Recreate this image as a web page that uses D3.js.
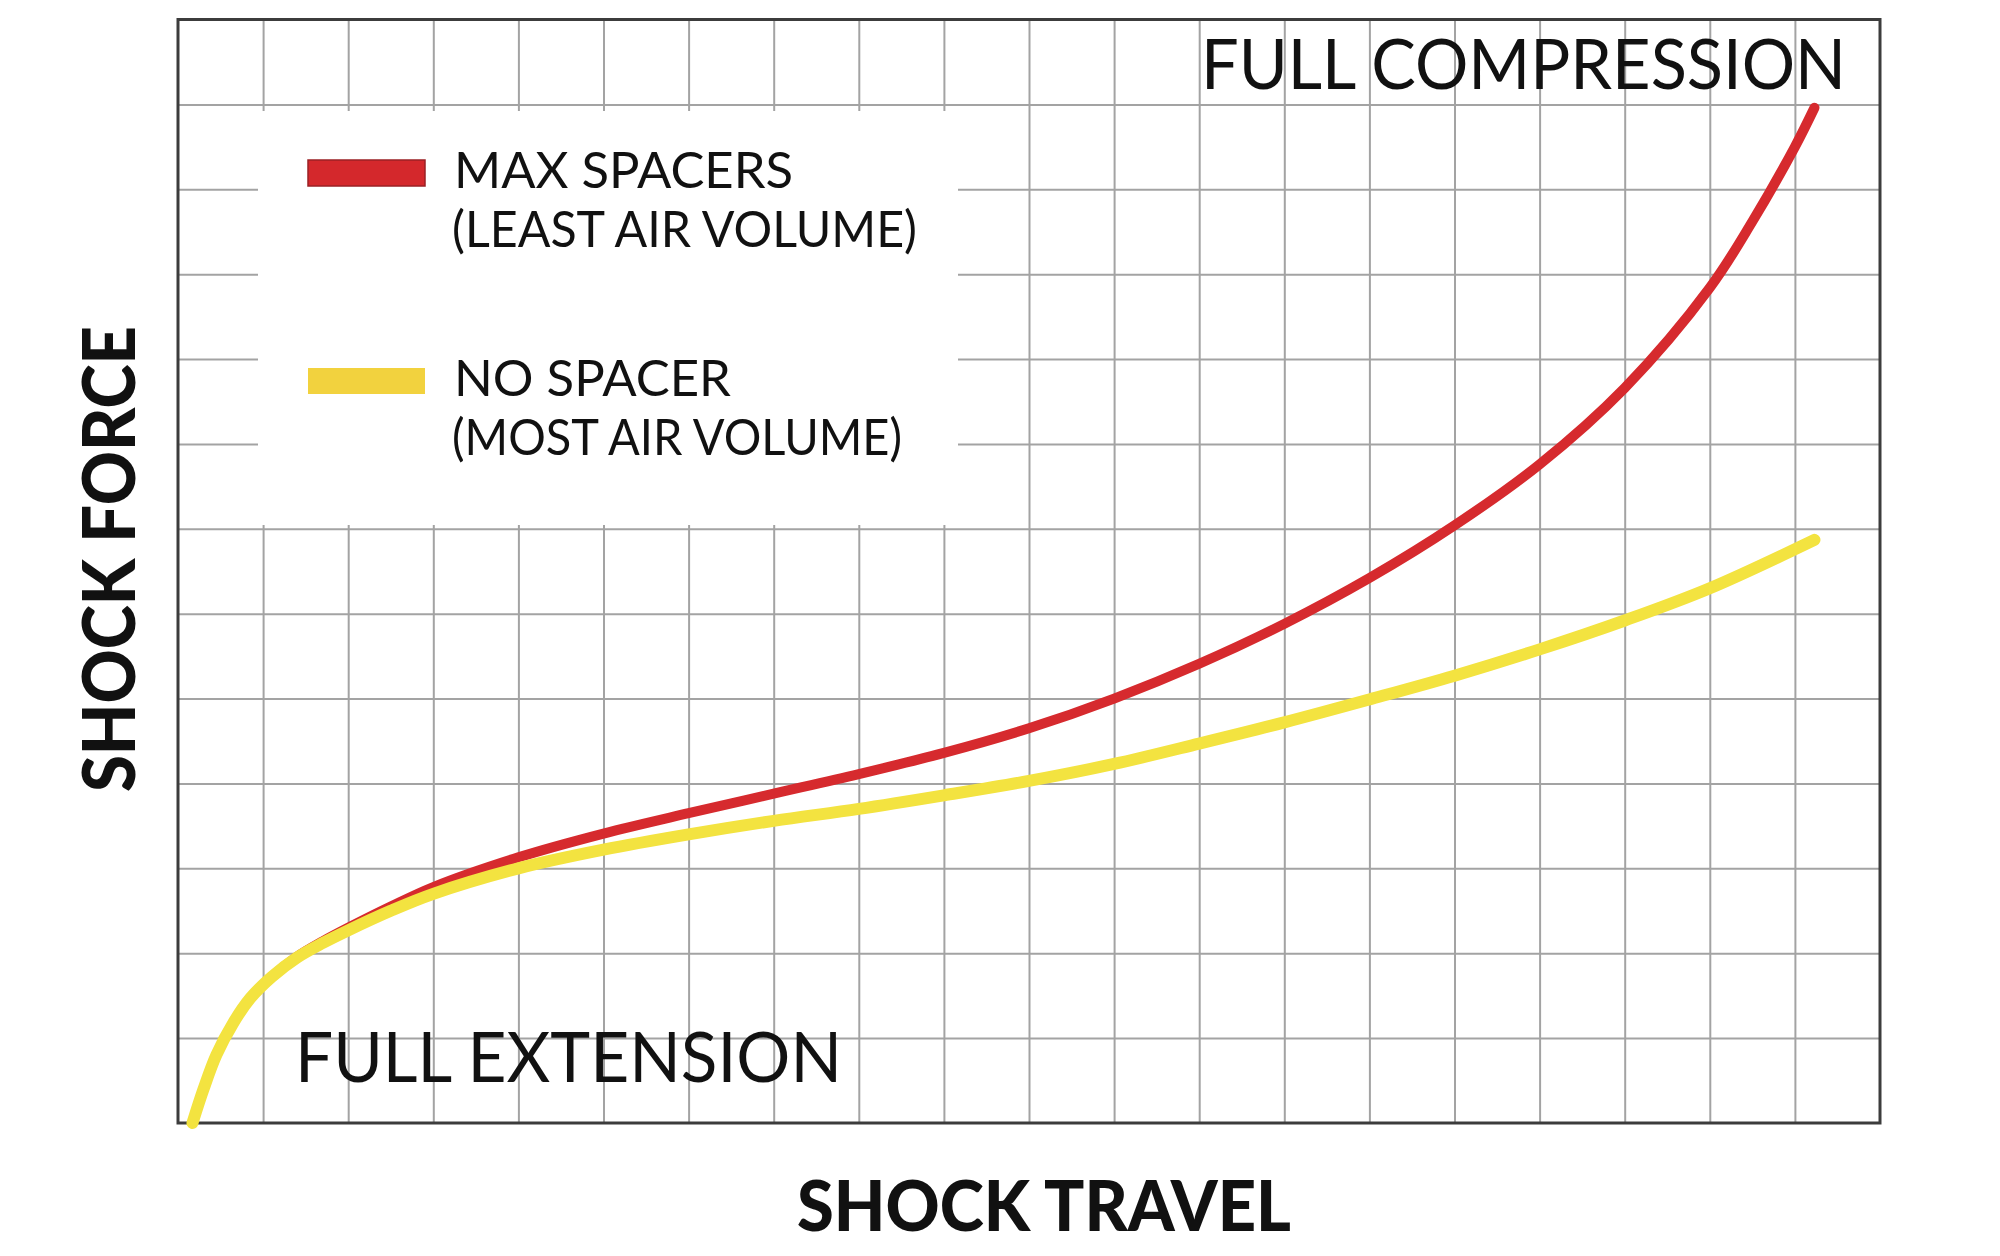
<!DOCTYPE html>
<html>
<head>
<meta charset="utf-8">
<script src="https://cdn.jsdelivr.net/npm/d3@7"></script>
<style>
  body { margin: 0; background: #fff; }
  text { font-family: Lato, "Open Sans", sans-serif; fill: #111; }
</style>
</head>
<body>
<script>
// travel / force in grid cells (20 x 13 grid)
const travel_max = [0.17, 0.3, 0.45, 0.65, 0.85, 1.1, 1.4, 1.7, 2, 2.5, 3, 4, 5, 6, 7, 8, 9, 10, 11, 12, 13, 14, 15, 16, 17, 18, 18.5, 19, 19.23];
const force_max  = [0, 0.4, 0.8, 1.18, 1.47, 1.72, 1.96, 2.14, 2.3, 2.55, 2.78, 3.13, 3.41, 3.65, 3.88, 4.11, 4.36, 4.65, 5.0, 5.41, 5.88, 6.42, 7.04, 7.76, 8.66, 9.84, 10.62, 11.5, 11.96];

const travel_none = [0.17, 0.3, 0.45, 0.65, 0.85, 1.1, 1.4, 1.7, 2, 2.5, 3, 4, 5, 6, 7, 8, 9, 10, 11, 12, 13, 14, 15, 16, 17, 18, 19.23];
const force_none  = [0, 0.4, 0.8, 1.18, 1.47, 1.72, 1.95, 2.12, 2.27, 2.5, 2.7, 3.0, 3.22, 3.4, 3.56, 3.7, 3.86, 4.03, 4.23, 4.47, 4.72, 4.99, 5.27, 5.58, 5.92, 6.3, 6.87];

const legendLabels = [['MAX SPACERS', '(LEAST AIR VOLUME)'], ['NO SPACER', '(MOST AIR VOLUME)']];
const colors = ['#d62a2e', '#f3e340'];
const swatchColors = ['#d4282c', '#f2d23e'];

// rendered widths of the labels, px
const legendWidths = [[339, 465], [277, 450]];

const width = 2000, height = 1256;
const plot = { left: 178, right: 1880, top: 19.5, bottom: 1123 };

const svg = d3.select('body').append('svg')
  .attr('width', width)
  .attr('height', height);

const x = d3.scaleLinear().domain([0, 20]).range([plot.left, plot.right]);
const y = d3.scaleLinear().domain([0, 13]).range([plot.bottom, plot.top]);

// grid
const gx = svg.append('g')
  .attr('transform', `translate(0,${plot.bottom})`)
  .call(d3.axisBottom(x).tickValues(d3.range(1, 20)).tickSize(-(plot.bottom - plot.top)).tickFormat(''));
const gy = svg.append('g')
  .attr('transform', `translate(${plot.left},0)`)
  .call(d3.axisLeft(y).tickValues(d3.range(1, 13)).tickSize(-(plot.right - plot.left)).tickFormat(''));
[gx, gy].forEach(g => {
  g.select('.domain').remove();
  g.selectAll('line').attr('stroke', '#a3a3a3').attr('stroke-width', 2);
});

// legend panel covers the grid
svg.append('rect')
  .attr('x', 258).attr('y', 111)
  .attr('width', 700).attr('height', 414)
  .attr('fill', '#fff');

// frame
svg.append('rect')
  .attr('x', plot.left).attr('y', plot.top)
  .attr('width', plot.right - plot.left).attr('height', plot.bottom - plot.top)
  .attr('fill', 'none')
  .attr('stroke', '#3c3c3c')
  .attr('stroke-width', 3);

// curves
const line = d3.line()
  .x(d => x(d[0]))
  .y(d => y(d[1]))
  .curve(d3.curveCatmullRom.alpha(0.5));

const series = [
  { pts: travel_max.map((t, i) => [t, force_max[i]]), color: colors[0], w: 10 },
  { pts: travel_none.map((t, i) => [t, force_none[i]]), color: colors[1], w: 12 }
];

svg.selectAll('.curve')
  .data(series)
  .enter()
  .append('path')
  .attr('class', 'curve')
  .attr('d', d => line(d.pts))
  .attr('fill', 'none')
  .attr('stroke', d => d.color)
  .attr('stroke-width', d => d.w)
  .attr('stroke-linecap', 'round');

// legend
const lg = svg.selectAll('.lg')
  .data(legendLabels)
  .enter()
  .append('g')
  .attr('class', 'lg')
  .attr('transform', (d, i) => `translate(0,${i * 208})`);

lg.append('rect')
  .attr('x', 308).attr('y', 160)
  .attr('width', 117).attr('height', 26)
  .attr('fill', (d, i) => swatchColors[i])
  .attr('stroke', (d, i) => i === 0 ? '#9a2024' : 'none')
  .attr('stroke-width', 1.5);

lg.append('text')
  .attr('x', 454).attr('y', 188)
  .attr('textLength', (d, i) => legendWidths[i][0])
  .attr('lengthAdjust', 'spacingAndGlyphs')
  .style('font-size', '50px')
  .text(d => d[0]);

lg.append('text')
  .attr('x', 452).attr('y', 247)
  .attr('textLength', (d, i) => legendWidths[i][1])
  .attr('lengthAdjust', 'spacingAndGlyphs')
  .style('font-size', '50px')
  .text(d => d[1]);

// annotations
svg.append('text')
  .attr('x', 1201).attr('y', 89)
  .attr('textLength', 645)
  .attr('lengthAdjust', 'spacingAndGlyphs')
  .style('font-size', '70px')
  .text('FULL COMPRESSION');

svg.append('text')
  .attr('x', 295).attr('y', 1082)
  .attr('textLength', 547)
  .attr('lengthAdjust', 'spacingAndGlyphs')
  .style('font-size', '70px')
  .text('FULL EXTENSION');

// axis titles
svg.append('text')
  .attr('x', 797).attr('y', 1231)
  .attr('textLength', 494)
  .attr('lengthAdjust', 'spacingAndGlyphs')
  .style('font-size', '71px')
  .style('font-weight', 900)
  .text('SHOCK TRAVEL');

svg.append('text')
  .attr('transform', 'translate(135,792) rotate(-90)')
  .attr('textLength', 466)
  .attr('lengthAdjust', 'spacingAndGlyphs')
  .style('font-size', '72px')
  .style('font-weight', 900)
  .text('SHOCK FORCE');
</script>
</body>
</html>
